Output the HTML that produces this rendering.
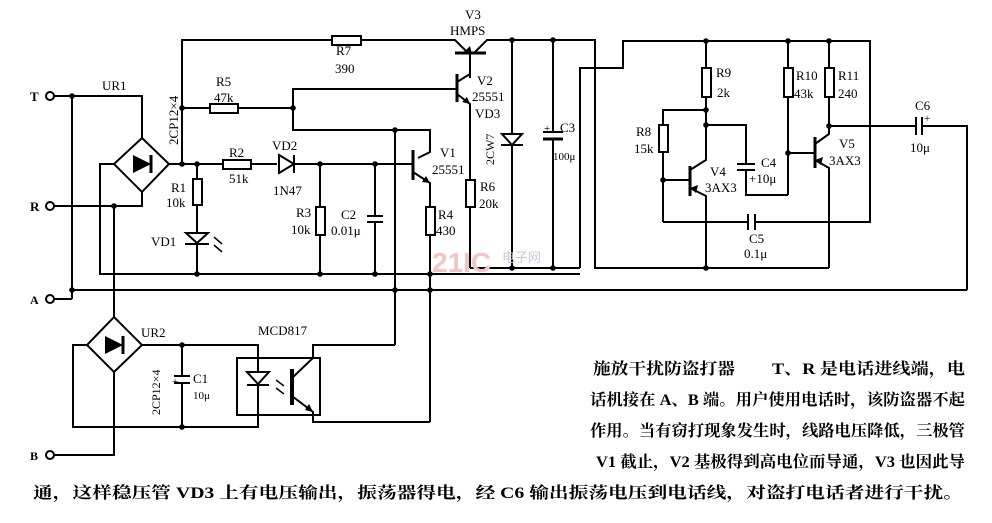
<!DOCTYPE html>
<html><head><meta charset="utf-8"><style>
html,body{margin:0;padding:0;background:#fff;}
svg{display:block;}
text{font-family:"Liberation Serif","Noto Serif CJK SC",serif;fill:#000;}
.t{font-family:"Liberation Serif","Noto Serif CJK SC","Noto Sans CJK SC",serif;font-weight:bold;font-size:16px;}
</style></head><body>
<svg width="992" height="523" viewBox="0 0 992 523" xmlns="http://www.w3.org/2000/svg">
<g stroke="#000" stroke-width="2" fill="none">
<circle cx="50" cy="96" r="4" fill="#fff"/>
<circle cx="50" cy="206" r="4" fill="#fff"/>
<circle cx="50" cy="299" r="4" fill="#fff"/>
<circle cx="50" cy="455" r="4" fill="#fff"/>
<polyline points="54,96 142,96 142,138"/>
<line x1="72" y1="96" x2="72" y2="299"/>
<polyline points="54,299 72,299"/>
<polyline points="54,206 142,206 142,192"/>
<line x1="114" y1="206" x2="114" y2="317"/>
<polygon points="142,138 169,164 142,192 114,164"/>
<polyline points="114,164 100,164 100,274 580,274"/>
<line x1="72" y1="290" x2="967" y2="290"/>
<polyline points="967,290 967,126 922,126"/>
<line x1="916" y1="126" x2="829" y2="126"/>
<line x1="916" y1="117" x2="916" y2="135"/>
<line x1="922" y1="117" x2="922" y2="135"/>
<line x1="169" y1="164" x2="223" y2="164"/>
<line x1="251" y1="164" x2="277" y2="164"/>
<line x1="295" y1="164" x2="413" y2="164"/>
<rect x="223" y="160" width="28" height="9" fill="#fff"/>
<polyline points="182,164 182,40 332,40"/>
<rect x="332" y="36" width="29" height="9" fill="#fff"/>
<polyline points="361,40 455,40 468,53"/>
<line x1="455" y1="53" x2="486" y2="53" stroke-width="3"/>
<polyline points="474,53 487,40 595,40 595,268 829,268"/>
<line x1="470" y1="53" x2="470" y2="78"/>
<line x1="182" y1="108" x2="210" y2="108"/>
<rect x="210" y="104" width="28" height="9" fill="#fff"/>
<line x1="238" y1="108" x2="293" y2="108"/>
<polyline points="457,89 293,89 293,130 430,130 430,152 418,158"/>
<line x1="457" y1="74" x2="457" y2="102" stroke-width="3"/>
<polyline points="457,82 470,74"/>
<polyline points="457,94 470,104 470,180"/>
<rect x="466" y="180" width="9" height="27" fill="#fff"/>
<line x1="470" y1="207" x2="470" y2="268"/>
<line x1="512" y1="40" x2="512" y2="268"/>
<line x1="553" y1="40" x2="553" y2="132"/>
<line x1="553" y1="139" x2="553" y2="268"/>
<line x1="543" y1="132" x2="563" y2="132"/>
<line x1="543" y1="139" x2="563" y2="139" stroke-width="3"/>
<line x1="470" y1="268" x2="580" y2="268"/>
<polyline points="580,268 580,68 623,68 623,41 870,41 870,222 663,222"/>
<line x1="197" y1="164" x2="197" y2="179"/>
<rect x="193" y="179" width="9" height="26" fill="#fff"/>
<line x1="197" y1="205" x2="197" y2="274"/>
<line x1="320" y1="164" x2="320" y2="207"/>
<rect x="316" y="207" width="9" height="28" fill="#fff"/>
<line x1="320" y1="235" x2="320" y2="274"/>
<line x1="375" y1="164" x2="375" y2="216"/>
<line x1="367" y1="216" x2="383" y2="216"/>
<line x1="367" y1="222" x2="383" y2="222"/>
<line x1="375" y1="222" x2="375" y2="274"/>
<line x1="413" y1="150" x2="413" y2="180" stroke-width="3"/>
<polyline points="413,172 430,183 430,207"/>
<rect x="426" y="207" width="9" height="28" fill="#fff"/>
<line x1="430" y1="235" x2="430" y2="422"/>
<line x1="395" y1="130" x2="395" y2="345"/>
<polygon points="114,317 142,345 114,372 87,345"/>
<polyline points="114,372 114,455 54,455"/>
<polyline points="87,345 73,345 73,427 258,427 258,345 142,345"/>
<line x1="182" y1="345" x2="182" y2="376"/>
<line x1="174" y1="376" x2="190" y2="376"/>
<line x1="174" y1="383" x2="190" y2="383"/>
<line x1="182" y1="383" x2="182" y2="427"/>
<rect x="237" y="358" width="83" height="57"/>
<line x1="292" y1="369" x2="292" y2="405" stroke-width="4"/>
<polyline points="292,378 313,358 313,345 395,345"/>
<polyline points="292,396 313,412 313,422 430,422"/>
<line x1="706" y1="41" x2="706" y2="68"/>
<rect x="702" y="68" width="9" height="29" fill="#fff"/>
<polyline points="706,97 706,160 690,170"/>
<polyline points="706,110 663,110 663,125"/>
<rect x="659" y="125" width="9" height="27" fill="#fff"/>
<polyline points="663,152 663,222"/>
<line x1="663" y1="180" x2="690" y2="180"/>
<line x1="690" y1="166" x2="690" y2="196" stroke-width="3"/>
<polyline points="690,188 706,196 706,268"/>
<polyline points="706,125 746,125 746,164"/>
<line x1="737" y1="164" x2="755" y2="164"/>
<line x1="737" y1="170" x2="755" y2="170"/>
<polyline points="746,170 746,195 788,195"/>
<line x1="788" y1="41" x2="788" y2="68"/>
<rect x="784" y="68" width="9" height="29" fill="#fff"/>
<line x1="788" y1="97" x2="788" y2="195"/>
<line x1="788" y1="153" x2="815" y2="153"/>
<line x1="829" y1="41" x2="829" y2="68"/>
<rect x="825" y="68" width="9" height="29" fill="#fff"/>
<polyline points="829,97 829,134 815,144"/>
<line x1="815" y1="137" x2="815" y2="168" stroke-width="3"/>
<polyline points="815,160 829,168 829,268"/>
<rect x="748" y="214" width="6" height="16" fill="#fff" stroke="none"/>
<line x1="748" y1="214" x2="748" y2="230"/>
<line x1="755" y1="214" x2="755" y2="230"/>
</g>
<g fill="#000">
<polygon points="133,155 151,164 133,173"/><line x1="151" y1="155" x2="151" y2="173" stroke="#000" stroke-width="3"/>
<polygon points="105,336 123,345 105,354"/><line x1="123" y1="336" x2="123" y2="354" stroke="#000" stroke-width="3"/>
<polygon points="279,155 294,164 279,173" fill="#fff" stroke="#000" stroke-width="2"/><line x1="294" y1="155" x2="294" y2="173" stroke="#000" stroke-width="2"/>
<polygon points="186,233 208,233 197,243" fill="#fff" stroke="#000" stroke-width="2"/><line x1="185" y1="244" x2="209" y2="244" stroke="#000" stroke-width="2"/>
<polygon points="502,134 522,134 512,145" fill="#fff" stroke="#000" stroke-width="2"/><line x1="501" y1="145" x2="523" y2="145" stroke="#000" stroke-width="2"/>
<polygon points="247,372 269,372 258,384" fill="#fff" stroke="#000" stroke-width="2"/><line x1="247" y1="385" x2="269" y2="385" stroke="#000" stroke-width="2"/>
<g stroke="#000" stroke-width="1.5"><line x1="214" y1="237" x2="222" y2="244"/><line x1="214" y1="245" x2="222" y2="252"/><line x1="276" y1="380" x2="284" y2="386"/><line x1="276" y1="388" x2="284" y2="394"/></g>
<polygon points="464,52 470,46 472,54"/><polygon points="470,104 462,102 467,97"/><polygon points="430,183 422,182 426,176"/>
<polygon points="313,412 305,410 309,404"/><polygon points="690,188 698,185 696,193"/><polygon points="815,160 823,157 821,165"/>
<g><circle cx="72" cy="96" r="2.8"/><circle cx="114" cy="206" r="2.8"/><circle cx="72" cy="290" r="2.8"/>
<circle cx="182" cy="164" r="2.8"/><circle cx="197" cy="164" r="2.8"/><circle cx="182" cy="108" r="2.8"/><circle cx="293" cy="108" r="2.8"/>
<circle cx="320" cy="164" r="2.8"/><circle cx="375" cy="164" r="2.8"/><circle cx="395" cy="130" r="2.8"/>
<circle cx="197" cy="274" r="2.8"/><circle cx="320" cy="274" r="2.8"/><circle cx="375" cy="274" r="2.8"/><circle cx="430" cy="274" r="2.8"/>
<circle cx="395" cy="290" r="2.8"/><circle cx="430" cy="290" r="2.8"/><circle cx="512" cy="40" r="2.8"/><circle cx="553" cy="40" r="2.8"/>
<circle cx="512" cy="268" r="2.8"/><circle cx="553" cy="268" r="2.8"/><circle cx="182" cy="345" r="2.8"/><circle cx="182" cy="427" r="2.8"/>
<circle cx="706" cy="41" r="2.8"/><circle cx="788" cy="41" r="2.8"/><circle cx="829" cy="41" r="2.8"/><circle cx="706" cy="110" r="2.8"/>
<circle cx="706" cy="125" r="2.8"/><circle cx="663" cy="180" r="2.8"/><circle cx="788" cy="153" r="2.8"/><circle cx="829" cy="126" r="2.8"/><circle cx="706" cy="268" r="2.8"/></g>
</g>
<g font-size="13">
<text x="30" y="101" font-weight="bold">T</text><text x="30" y="211" font-weight="bold">R</text>
<text x="30" y="304" font-weight="bold" font-size="12">A</text><text x="30" y="460" font-weight="bold" font-size="12">B</text>
<text x="102" y="90">UR1</text><text x="141" y="337">UR2</text><text x="258" y="335">MCD817</text>
<text x="336" y="55">R7</text><text x="335" y="73">390</text>
<text x="216" y="86">R5</text><text x="214" y="102">47k</text>
<text x="229" y="157">R2</text><text x="229" y="183">51k</text>
<text x="272" y="150">VD2</text><text x="273" y="195">1N47</text>
<text x="171" y="192">R1</text><text x="166" y="207">10k</text><text x="151" y="246">VD1</text>
<text x="296" y="217">R3</text><text x="291" y="234">10k</text>
<text x="341" y="219">C2</text><text x="331" y="235">0.01μ</text>
<text x="440" y="157">V1</text><text x="432" y="174">25551</text>
<text x="438" y="219">R4</text><text x="436" y="235">430</text>
<text x="465" y="19">V3</text><text x="450" y="35">HMPS</text>
<text x="477" y="85">V2</text><text x="472" y="101">25551</text><text x="475" y="118">VD3</text>
<text x="480" y="191">R6</text><text x="479" y="208">20k</text>
<text x="560" y="132">C3</text><text x="553" y="160" font-size="11">100μ</text>
<text x="544" y="132" font-size="11">+</text>
<text x="716" y="77">R9</text><text x="717" y="97">2k</text>
<text x="796" y="80">R10</text><text x="794" y="98">43k</text>
<text x="838" y="80">R11</text><text x="838" y="98">240</text>
<text x="636" y="136">R8</text><text x="634" y="153">15k</text>
<text x="710" y="176">V4</text><text x="705" y="192">3AX3</text>
<text x="761" y="167">C4</text><text x="749" y="183">+10μ</text>
<text x="839" y="148">V5</text><text x="829" y="165">3AX3</text>
<text x="749" y="243">C5</text><text x="744" y="258">0.1μ</text>
<text x="915" y="110">C6</text><text x="924" y="122" font-size="11">+</text><text x="910" y="152">10μ</text>
<text x="172" y="385" font-size="11">+</text><text x="193" y="383">C1</text><text x="193" y="399" font-size="11">10μ</text>
<text transform="translate(178,145) rotate(-90)">2CP12×4</text>
<text transform="translate(160,415) rotate(-90)" font-size="12">2CP12×4</text>
<text transform="translate(494,165) rotate(-90)" font-size="12">2CW7</text>
</g>
<text x="432" y="272" style="font-family:'Liberation Sans',sans-serif;font-weight:bold;font-size:28px;fill:#f4c4c4;">21IC</text>
<text x="502" y="262" style="font-size:13px;fill:#c8c8e0;font-family:'Noto Sans CJK SC',sans-serif;">电子网</text>
<text class="t" x="593" y="374" textLength="142" lengthAdjust="spacingAndGlyphs">施放干扰防盗打器</text>
<text class="t" x="772" y="374" textLength="193" lengthAdjust="spacingAndGlyphs">T、R 是电话进线端，电</text>
<text class="t" x="590" y="405" textLength="375" lengthAdjust="spacingAndGlyphs">话机接在 A、B 端。用户使用电话时，该防盗器不起</text>
<text class="t" x="590" y="436" textLength="375" lengthAdjust="spacingAndGlyphs">作用。当有窃打现象发生时，线路电压降低，三极管</text>
<text class="t" x="596" y="467" textLength="369" lengthAdjust="spacingAndGlyphs">V1 截止，V2 基极得到高电位而导通，V3 也因此导</text>
<text class="t" x="33" y="498" textLength="930" lengthAdjust="spacingAndGlyphs">通，这样稳压管 VD3 上有电压输出，振荡器得电，经 C6 输出振荡电压到电话线，对盗打电话者进行干扰。</text>
</svg>
</body></html>
